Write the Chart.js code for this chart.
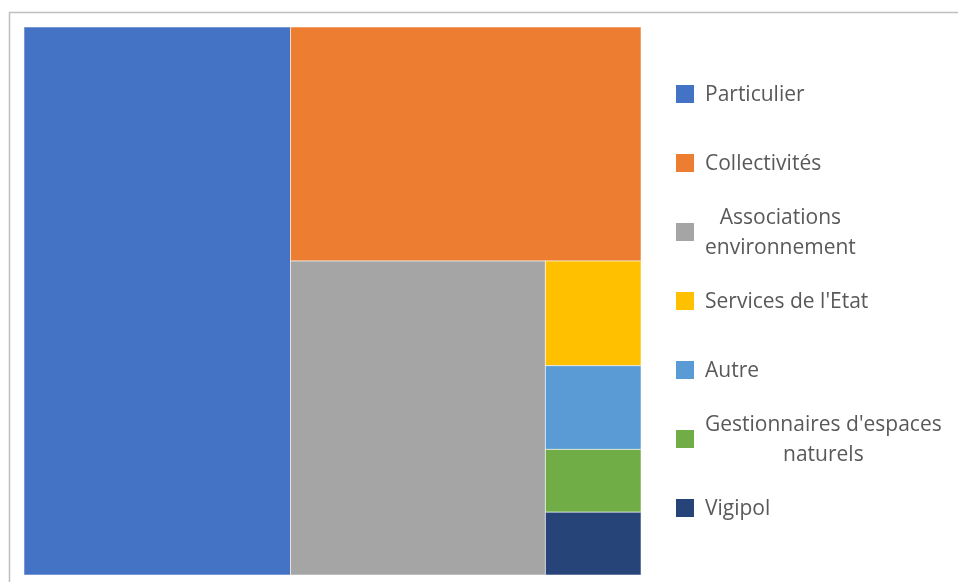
<!DOCTYPE html>
<html>
<head>
<meta charset="utf-8">
<script src="https://cdn.jsdelivr.net/npm/chart.js@4.4.0/dist/chart.umd.min.js"></script>
<style>
  html, body { margin: 0; padding: 0; background: #fff; }
  #wrap { width: 958px; height: 582px; }
</style>
</head>
<body>
<div id="wrap"><canvas id="treemap" width="958" height="582"></canvas></div>
<script>
// data
const categories = ['Particulier', 'Collectivités', 'Associations environnement', "Services de l'Etat", 'Autre', "Gestionnaires d'espaces naturels", 'Vigipol'];
const counts = [73, 41, 40, 5, 4, 3, 3];
const colors = ['#4472C4', '#ED7D31', '#A5A5A5', '#FFC000', '#5B9BD5', '#70AD47', '#264478'];

/* squarified layout, done in value units; kx/ky turn lengths into pixels so the
   aspect ratios are judged the way they will be drawn */
function worst(row, side) {
  const s = row.reduce((a, r) => a + r.a, 0);
  let w = 0;
  row.forEach(function (r) {
    w = Math.max(w, side * side * r.a / (s * s), s * s / (side * side * r.a));
  });
  return w;
}

function squarify(vals, rect, kx, ky) {
  const total = vals.reduce((a, b) => a + b, 0);
  const full = rect.w * kx * rect.h * ky;
  let items = vals.map((v, i) => ({ i, a: v / total * full }));
  let r = Object.assign({}, rect);
  const out = [];
  while (items.length) {
    const pw = r.w * kx, ph = r.h * ky;
    const side = Math.min(pw, ph);
    let row = [items[0]];
    let k = 1;
    while (k < items.length && worst(row.concat(items[k]), side) <= worst(row, side)) {
      row.push(items[k]);
      k++;
    }
    const thick = row.reduce((a, it) => a + it.a, 0) / side;
    if (pw >= ph) {
      const tw = thick / kx;
      let yy = r.y;
      row.forEach(function (it) {
        const hh = it.a / thick / ky;
        out.push({ i: it.i, x: r.x, y: yy, w: tw, h: hh });
        yy += hh;
      });
      r.x += tw; r.w -= tw;
    } else {
      const th = thick / ky;
      let xx = r.x;
      row.forEach(function (it) {
        const ww = it.a / thick / kx;
        out.push({ i: it.i, x: xx, y: r.y, w: ww, h: th });
        xx += ww;
      });
      r.y += th; r.h -= th;
    }
    items = items.slice(k);
  }
  return out;
}

const frame = {
  id: 'frame',
  beforeDraw(chart) {
    const ctx = chart.ctx;
    ctx.save();
    ctx.strokeStyle = '#bfbfbf';
    ctx.lineWidth = 1.5;
    ctx.strokeRect(9.5, 12.5, 980, 620);
    ctx.restore();
  }
};

const cells = {
  id: 'cells',
  beforeDatasetsDraw(chart) {
    const { ctx, chartArea, scales: { x, y } } = chart;
    const kx = chartArea.width / (x.max - x.min);
    const ky = chartArea.height / (y.max - y.min);
    const boxes = squarify(counts, { x: 0, y: 0, w: 100, h: 100 }, kx, ky);
    ctx.save();
    boxes.forEach(function (b) {
      const x0 = x.getPixelForValue(b.x), x1 = x.getPixelForValue(b.x + b.w);
      const y0 = y.getPixelForValue(b.y), y1 = y.getPixelForValue(b.y + b.h);
      ctx.fillStyle = colors[b.i];
      ctx.fillRect(x0, y0, x1 - x0, y1 - y0);
      ctx.strokeStyle = 'rgba(255,255,255,0.55)';
      ctx.lineWidth = 1;
      ctx.strokeRect(x0, y0, x1 - x0, y1 - y0);
    });
    ctx.restore();
  }
};

/* legend drawn by hand: Excel wraps long names and centres them */
const sideLegend = {
  id: 'sideLegend',
  afterDraw(chart) {
    const { ctx, chartArea } = chart;
    const step = 69, lineH = 30, boxS = 18, boxX = 676, textX = 705, maxW = 250;
    const mid = (chartArea.top + chartArea.bottom) / 2;
    const start = mid - step * (categories.length - 1) / 2;
    ctx.save();
    ctx.font = "21px 'Open Sans'";
    ctx.textBaseline = 'middle';
    categories.forEach(function (name, i) {
      const cy = start + i * step;
      // wrap
      const words = name.split(' ');
      const lines = [];
      let cur = '';
      words.forEach(function (w) {
        const t = cur ? cur + ' ' + w : w;
        if (cur && ctx.measureText(t).width > maxW) { lines.push(cur); cur = w; } else cur = t;
      });
      lines.push(cur);
      const blockW = Math.max.apply(null, lines.map(l => ctx.measureText(l).width));

      ctx.fillStyle = colors[i];
      ctx.fillRect(boxX, cy - boxS / 2, boxS, boxS);

      ctx.fillStyle = '#595959';
      ctx.textAlign = 'center';
      lines.forEach(function (l, j) {
        ctx.fillText(l, textX + blockW / 2, cy + 1 + (j - (lines.length - 1) / 2) * lineH);
      });
    });
    ctx.restore();
  }
};

new Chart(document.getElementById('treemap'), {
  type: 'scatter',
  data: {
    datasets: categories.map(function (c, i) {
      return { label: c, data: [], backgroundColor: colors[i] };
    })
  },
  options: {
    responsive: false,
    animation: false,
    layout: { padding: { left: 24, top: 27, right: 317, bottom: 7 } },
    scales: {
      x: { type: 'linear', min: 0, max: 100, display: false },
      y: { type: 'linear', min: 0, max: 100, reverse: true, display: false }
    },
    plugins: {
      legend: { display: false },
      tooltip: { enabled: false }
    }
  },
  plugins: [frame, cells, sideLegend]
});
</script>
</body>
</html>
